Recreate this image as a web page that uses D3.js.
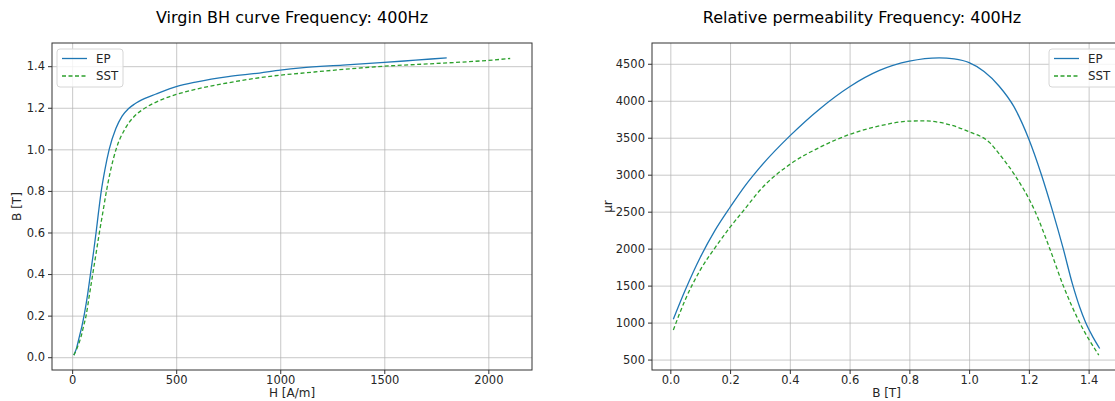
<!DOCTYPE html>
<html>
<head>
<meta charset="utf-8">
<script src="https://cdn.jsdelivr.net/npm/d3@7"></script>
<style>
  body { margin: 0; background: #fff; overflow: hidden; }
  svg { display: block; font-family: "DejaVu Sans", sans-serif; }
  .axis text { font-family: "DejaVu Sans", sans-serif; font-size: 11.5px; fill: #262626; }
  .axis path, .axis line { stroke: #333; }
  .grid line { stroke: #b0b0b0; stroke-opacity: 0.7; }
  .grid path { display: none; }
</style>
</head>
<body>
<div id="chart"></div>
<script>
// Virgin BH curve, H [A/m] -> B [T]
var ep_H  = [8, 20, 35, 47, 59, 74, 88, 102, 115, 127, 140, 157, 178, 210, 240, 270, 300, 350, 400, 500, 600, 750, 900, 1000, 1100, 1300, 1500, 1650, 1800];
var ep_B  = [0.01, 0.04, 0.1, 0.15, 0.21, 0.3, 0.4, 0.5, 0.6, 0.7, 0.8, 0.9, 1.0, 1.1, 1.16, 1.195, 1.218, 1.245, 1.265, 1.302, 1.325, 1.35, 1.367, 1.381, 1.392, 1.405, 1.418, 1.429, 1.44];
var sst_H = [8, 22, 43, 55, 67, 83, 99, 115, 131, 148, 165, 185, 211, 255, 300, 345, 420, 500, 600, 750, 1000, 1100, 1250, 1500, 1750, 2000, 2105];
var sst_B = [0.01, 0.04, 0.1, 0.15, 0.2, 0.3, 0.4, 0.5, 0.6, 0.7, 0.8, 0.9, 1.0, 1.1, 1.16, 1.195, 1.235, 1.264, 1.29, 1.32, 1.357, 1.366, 1.38, 1.4, 1.413, 1.428, 1.437];

// Relative permeability, B [T] -> mu_r
var ep_mB   = [0.01, 0.05, 0.1, 0.15, 0.2, 0.25, 0.3, 0.4, 0.5, 0.6, 0.7, 0.8, 0.9, 0.95, 1.0, 1.05, 1.1, 1.15, 1.2, 1.242, 1.28, 1.315, 1.346, 1.37, 1.39, 1.415, 1.437];
var ep_mu   = [1045, 1440, 1880, 2250, 2560, 2850, 3100, 3525, 3890, 4190, 4410, 4535, 4580, 4565, 4515, 4395, 4200, 3920, 3480, 3000, 2500, 2000, 1520, 1210, 1000, 800, 650];
var sst_mB  = [0.01, 0.05, 0.1, 0.15, 0.2, 0.25, 0.3, 0.4, 0.5, 0.6, 0.7, 0.8, 0.85, 0.9, 1.0, 1.07, 1.1, 1.152, 1.22, 1.27, 1.315, 1.37, 1.434];
var sst_mu  = [900, 1310, 1710, 2015, 2290, 2540, 2790, 3140, 3370, 3545, 3660, 3725, 3728, 3708, 3580, 3430, 3285, 3000, 2510, 2000, 1500, 1000, 560];

var series_names = ["EP", "SST"];
var series_colors = ["#1f77b4", "#2ca02c"];
var series_dash = [null, "4,2.5"];

var bh_xticks = [0, 500, 1000, 1500, 2000];
var bh_yticks = [0.0, 0.2, 0.4, 0.6, 0.8, 1.0, 1.2, 1.4];
var mu_xticks = [0.0, 0.2, 0.4, 0.6, 0.8, 1.0, 1.2, 1.4];
var mu_yticks = [500, 1000, 1500, 2000, 2500, 3000, 3500, 4000, 4500];

var svg = d3.select("#chart").append("svg")
            .attr("width", 1115)
            .attr("height", 401);

function zip(xs, ys) {
    return xs.map(function(x, i) { return {x: x, y: ys[i]}; });
}

// matplotlib style 5% margins
function padded(arrs) {
    var lo = d3.min(arrs, function(a) { return d3.min(a); });
    var hi = d3.max(arrs, function(a) { return d3.max(a); });
    var m = (hi - lo) * 0.05;
    return [lo - m, hi + m];
}

function draw_panel(opt) {
    var x = d3.scaleLinear().domain(opt.xdom).range([opt.left, opt.right]);
    var y = d3.scaleLinear().domain(opt.ydom).range([opt.bottom, opt.top]);

    // grid
    svg.append("g")
       .attr("class", "grid")
       .attr("transform", "translate(0," + opt.bottom + ")")
       .call(d3.axisBottom(x).tickValues(opt.xticks).tickSize(opt.top - opt.bottom).tickFormat(""));
    svg.append("g")
       .attr("class", "grid")
       .attr("transform", "translate(" + opt.left + ",0)")
       .call(d3.axisLeft(y).tickValues(opt.yticks).tickSize(opt.left - opt.right).tickFormat(""));

    // lines
    var line = d3.line()
                 .x(function(d) { return x(d.x); })
                 .y(function(d) { return y(d.y); })
                 .curve(d3.curveMonotoneX);

    opt.data.forEach(function(s, i) {
        svg.append("path")
           .datum(s)
           .attr("d", line)
           .attr("fill", "none")
           .attr("stroke", series_colors[i])
           .attr("stroke-width", 1.3)
           .attr("stroke-dasharray", series_dash[i]);
    });

    // frame
    svg.append("rect")
       .attr("x", opt.left)
       .attr("y", opt.top)
       .attr("width", opt.right - opt.left)
       .attr("height", opt.bottom - opt.top)
       .attr("fill", "none")
       .attr("stroke", "#333")
       .attr("stroke-width", 1);

    // axes
    var gx = svg.append("g")
                .attr("class", "axis")
                .attr("transform", "translate(0," + opt.bottom + ")")
                .call(d3.axisBottom(x).tickValues(opt.xticks).tickSize(4).tickPadding(2).tickFormat(opt.xfmt));
    gx.select(".domain").remove();
    var gy = svg.append("g")
                .attr("class", "axis")
                .attr("transform", "translate(" + opt.left + ",0)")
                .call(d3.axisLeft(y).tickValues(opt.yticks).tickSize(4).tickPadding(3).tickFormat(opt.yfmt));
    gy.select(".domain").remove();

    // title and labels
    svg.append("text")
       .attr("x", opt.title_x)
       .attr("y", 23)
       .attr("text-anchor", "middle")
       .style("font-size", "16px")
       .style("fill", "#000")
       .text(opt.title);
    svg.append("text")
       .attr("x", (opt.left + opt.right) / 2)
       .attr("y", 396.5)
       .attr("text-anchor", "middle")
       .style("font-size", "12px")
       .style("fill", "#262626")
       .text(opt.xlabel);
    svg.append("text")
       .attr("transform", "translate(" + opt.ylabel_x + "," + (opt.top + opt.bottom) / 2 + ") rotate(-90)")
       .attr("text-anchor", "middle")
       .style("font-size", "12px")
       .style("fill", "#262626")
       .text(opt.ylabel);

    // legend
    var lg = svg.append("g")
                .attr("transform", "translate(" + opt.leg_x + "," + (opt.top + 6) + ")");
    lg.append("rect")
      .attr("width", opt.leg_w)
      .attr("height", 38)
      .attr("rx", 3)
      .attr("fill", "#fff")
      .attr("fill-opacity", 0.8)
      .attr("stroke", "#d6d6d6");
    series_names.forEach(function(name, i) {
        var cy = 9.5 + i * 17.5;
        lg.append("line")
          .attr("x1", 5).attr("x2", 30)
          .attr("y1", cy).attr("y2", cy)
          .attr("stroke", series_colors[i])
          .attr("stroke-width", 1.3)
          .attr("stroke-dasharray", series_dash[i]);
        lg.append("text")
          .attr("x", 39)
          .attr("y", cy + 4.3)
          .style("font-size", "11.8px")
          .style("fill", "#262626")
          .text(name);
    });
}

draw_panel({
    left: 52, right: 532, top: 43, bottom: 370,
    xdom: padded([ep_H, sst_H]),
    ydom: padded([ep_B, sst_B]),
    xticks: bh_xticks, yticks: bh_yticks,
    xfmt: d3.format("d"), yfmt: d3.format(".1f"),
    data: [zip(ep_H, ep_B), zip(sst_H, sst_B)],
    title: "Virgin BH curve Frequency: 400Hz", title_x: 292,
    xlabel: "H [A/m]", ylabel: "B [T]", ylabel_x: 20.5,
    leg_x: 57, leg_w: 66
});

draw_panel({
    left: 652, right: 1121, top: 43, bottom: 370,
    xdom: padded([ep_mB, sst_mB]),
    ydom: padded([ep_mu, sst_mu]),
    xticks: mu_xticks, yticks: mu_yticks,
    xfmt: d3.format(".1f"), yfmt: d3.format("d"),
    data: [zip(ep_mB, ep_mu), zip(sst_mB, sst_mu)],
    title: "Relative permeability Frequency: 400Hz", title_x: 862,
    xlabel: "B [T]", ylabel: "\u03bcr", ylabel_x: 612,
    leg_x: 1049, leg_w: 70
});
</script>
</body>
</html>
